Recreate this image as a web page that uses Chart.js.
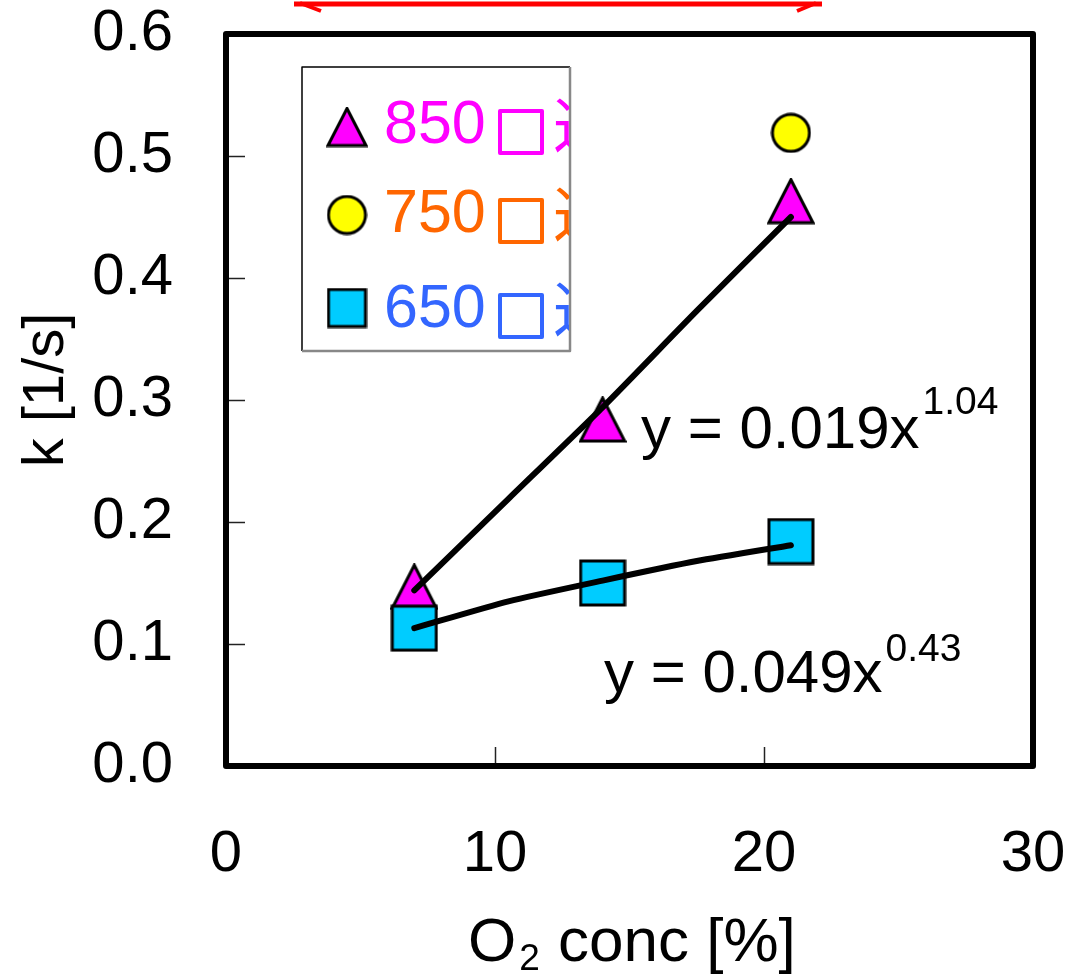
<!DOCTYPE html>
<html>
<head>
<meta charset="utf-8">
<script src="https://cdn.jsdelivr.net/npm/chart.js@4.4.1/dist/chart.umd.min.js"></script>
<style>
  html, body { margin: 0; padding: 0; background: #fff; }
  #wrap { width: 1069px; height: 975px; }
</style>
</head>
<body>
<div id="wrap"><canvas id="chart" width="1069" height="975"></canvas></div>
<script>
// values
const o2 = [7, 14, 21];
const k850 = [0.147, 0.284, 0.463];
const o2At750 = [21];
const k750 = [0.519];
const k650 = [0.113, 0.150, 0.184];

// power-law trend lines, read at a few points
const fitX = [7, 10.5, 14, 17.5, 21];
const fit850 = [0.144, 0.219, 0.294, 0.373, 0.450];
const fit650 = [0.113, 0.135, 0.152, 0.168, 0.181];

const xTicks = [0, 10, 20, 30];
const yTicks = [0.0, 0.1, 0.2, 0.3, 0.4, 0.5, 0.6];

const legendLabels = ["850", "750", "650"];
const legendColors = ["#ff00ff", "#ff6600", "#3366ff"];
const eq850 = ["y = 0.019x", "1.04"];
const eq650 = ["y = 0.049x", "0.43"];

const FONT = "'Liberation Sans', Arial, sans-serif";

// marker images
function triangleImg(w, h, fill) {
  const c = document.createElement("canvas");
  c.width = w + 4; c.height = h + 4;
  const g = c.getContext("2d");
  g.beginPath();
  g.moveTo(2 + w / 2, 2);
  g.lineTo(2 + w, 2 + h);
  g.lineTo(2, 2 + h);
  g.closePath();
  g.fillStyle = fill; g.fill();
  g.lineWidth = 3; g.lineJoin = "miter"; g.strokeStyle = "#000"; g.stroke();
  return c;
}
function squareImg(s, fill) {
  const c = document.createElement("canvas");
  c.width = s + 4; c.height = s + 4;
  const g = c.getContext("2d");
  g.fillStyle = fill; g.fillRect(2, 2, s, s);
  g.lineWidth = 3; g.strokeStyle = "#000"; g.strokeRect(2, 2, s, s);
  return c;
}
function circleImg(d, fill) {
  const c = document.createElement("canvas");
  c.width = d + 4; c.height = d + 4;
  const g = c.getContext("2d");
  g.beginPath(); g.arc(2 + d / 2, 2 + d / 2, d / 2, 0, Math.PI * 2);
  g.fillStyle = fill; g.fill();
  g.lineWidth = 3; g.strokeStyle = "#000"; g.stroke();
  return c;
}

const triBig = triangleImg(44, 43, "#ff00ff");
const sqBig = squareImg(44, "#00ccff");
const cirBig = circleImg(37, "#ffff00");
const legendMarks = [triangleImg(38, 37, "#ff00ff"), circleImg(37, "#ffff00"), squareImg(37, "#00ccff")];

const pts = (xs, ys) => xs.map((x, i) => ({ x: x, y: ys[i] }));

// fixed axis sizes so the plot frame lands where it does in the picture
const noPad = (s) => { s.paddingTop = 0; s.paddingBottom = 0; s.paddingLeft = 0; s.paddingRight = 0; };

const extras = {
  id: "extras",
  afterDraw(chart) {
    const ctx = chart.ctx;
    const a = chart.chartArea;
    const xs = chart.scales.x, ys = chart.scales.y;
    ctx.save();

    // inner tick marks
    ctx.strokeStyle = "#222";
    ctx.lineWidth = 1.5;
    xTicks.slice(1, -1).forEach(v => {
      const px = Math.round(xs.getPixelForValue(v)) + 0.5;
      ctx.beginPath(); ctx.moveTo(px, a.bottom); ctx.lineTo(px, a.bottom - 19); ctx.stroke();
    });
    yTicks.slice(1, -1).forEach(v => {
      const py = Math.round(ys.getPixelForValue(v)) + 0.5;
      ctx.beginPath(); ctx.moveTo(a.left, py); ctx.lineTo(a.left + 19, py); ctx.stroke();
    });

    // frame
    ctx.strokeStyle = "#000";
    ctx.lineWidth = 6;
    ctx.lineJoin = "round";
    ctx.strokeRect(a.left, a.top, a.right - a.left, a.bottom - a.top);

    // legend box
    const L = 302, T = 67, R = 570, B = 351;
    ctx.fillStyle = "#fff";
    ctx.fillRect(L, T, R - L, B - T);
    ctx.lineWidth = 1.5;
    ctx.strokeStyle = "#000";
    ctx.beginPath(); ctx.moveTo(L, B); ctx.lineTo(L, T); ctx.lineTo(R, T); ctx.stroke();
    ctx.strokeStyle = "#888";
    ctx.lineWidth = 2.5;
    ctx.beginPath(); ctx.moveTo(R, T); ctx.lineTo(R, B); ctx.lineTo(L, B); ctx.stroke();

    const rowY = [127, 215, 308];
    const baseY = [143, 232, 327];
    ctx.save();
    ctx.beginPath(); ctx.rect(L, T, R - L - 1, B - T); ctx.clip();
    legendLabels.forEach((lab, i) => {
      const m = legendMarks[i];
      ctx.drawImage(m, 347 - m.width / 2, rowY[i] - m.height / 2);
      ctx.fillStyle = legendColors[i];
      ctx.textAlign = "left";
      ctx.textBaseline = "alphabetic";
      ctx.font = "61px " + FONT;
      ctx.fillText(lab, 384, baseY[i]);
      // missing-glyph box and the clipped character after it
      ctx.strokeStyle = legendColors[i];
      ctx.lineWidth = 4;
      ctx.strokeRect(500, baseY[i] - 32, 42, 42);
      ctx.font = "60px 'Noto Sans CJK JP', sans-serif";
      ctx.fillText("近", 553, baseY[i] + 5);
    });
    ctx.restore();

    // equations
    ctx.fillStyle = "#000";
    ctx.textAlign = "left";
    ctx.textBaseline = "alphabetic";
    ctx.font = "60px " + FONT;
    ctx.fillText(eq850[0], 641, 448);
    let w = ctx.measureText(eq850[0]).width;
    ctx.font = "39px " + FONT;
    ctx.fillText(eq850[1], 641 + w + 3, 414);
    ctx.font = "60px " + FONT;
    ctx.fillText(eq650[0], 604, 692);
    w = ctx.measureText(eq650[0]).width;
    ctx.font = "39px " + FONT;
    ctx.fillText(eq650[1], 604 + w + 3, 661);

    // x axis title with subscript
    ctx.font = "62px " + FONT;
    const wO = ctx.measureText("O").width;
    ctx.font = "37px " + FONT;
    const w2 = ctx.measureText("2").width;
    const sx = 468;
    ctx.font = "62px " + FONT;
    ctx.fillText("O", sx, 961);
    ctx.font = "37px " + FONT;
    ctx.fillText("2", sx + wO + 3, 970);
    ctx.font = "62px " + FONT;
    ctx.fillText(" conc [%]", sx + wO + w2 + 4, 961);

    // y axis title
    ctx.save();
    ctx.translate(63, 390);
    ctx.rotate(-Math.PI / 2);
    ctx.textAlign = "center";
    ctx.font = "58px " + FONT;
    ctx.fillText("k [1/s]", 0, 0);
    ctx.restore();

    // red double arrow cut off at the top
    ctx.strokeStyle = "#ff0000";
    ctx.lineWidth = 5;
    ctx.lineCap = "butt";
    ctx.beginPath(); ctx.moveTo(294, 4); ctx.lineTo(822, 4); ctx.stroke();
    ctx.lineWidth = 4;
    ctx.beginPath();
    ctx.moveTo(300, 3); ctx.lineTo(321, 11);
    ctx.moveTo(816, 3); ctx.lineTo(797, 11);
    ctx.stroke();

    ctx.restore();
  }
};

new Chart(document.getElementById("chart"), {
  type: "scatter",
  data: {
    datasets: [
      {
        label: "fit 850",
        data: pts(fitX, fit850),
        showLine: true,
        borderColor: "#000",
        borderWidth: 6,
        borderCapStyle: "round",
        pointRadius: 0,
        tension: 0.2,
      },
      {
        label: "fit 650",
        data: pts(fitX, fit650),
        showLine: true,
        borderColor: "#000",
        borderWidth: 6,
        borderCapStyle: "round",
        pointRadius: 0,
        tension: 0.2,
      },
      {
        label: "650",
        data: pts(o2, k650),
        pointStyle: sqBig,
        pointRadius: 24,
      },
      {
        label: "750",
        data: pts(o2At750, k750),
        pointStyle: cirBig,
        pointRadius: 20,
      },
      {
        label: "850",
        data: pts(o2, k850),
        pointStyle: triBig,
        pointRadius: 24,
      },
    ],
  },
  options: {
    responsive: false,
    animation: false,
    events: [],
    clip: false,
    layout: {
      padding: { top: 34, right: 36, left: 0, bottom: 0 },
    },
    plugins: {
      legend: { display: false },
      tooltip: { enabled: false },
    },
    scales: {
      x: {
        type: "linear",
        min: 0,
        max: 30,
        afterBuildTicks: (s) => { s.ticks = xTicks.map(v => ({ value: v })); },
        afterFit: (s) => { s.height = 209; noPad(s); },
        grid: { display: false, drawTicks: false },
        border: { display: false },
        ticks: {
          padding: 54,
          color: "#000",
          font: { family: FONT, size: 58 },
          maxRotation: 0,
          autoSkip: false,
        },
      },
      y: {
        min: 0,
        max: 0.6,
        afterBuildTicks: (s) => { s.ticks = yTicks.map(v => ({ value: v })); },
        afterFit: (s) => { s.width = 226; noPad(s); },
        grid: { display: false, drawTicks: false },
        border: { display: false },
        ticks: {
          padding: 53,
          color: "#000",
          font: { family: FONT, size: 58 },
          callback: (v) => v.toFixed(1),
        },
      },
    },
  },
  plugins: [extras],
});
</script>
</body>
</html>
